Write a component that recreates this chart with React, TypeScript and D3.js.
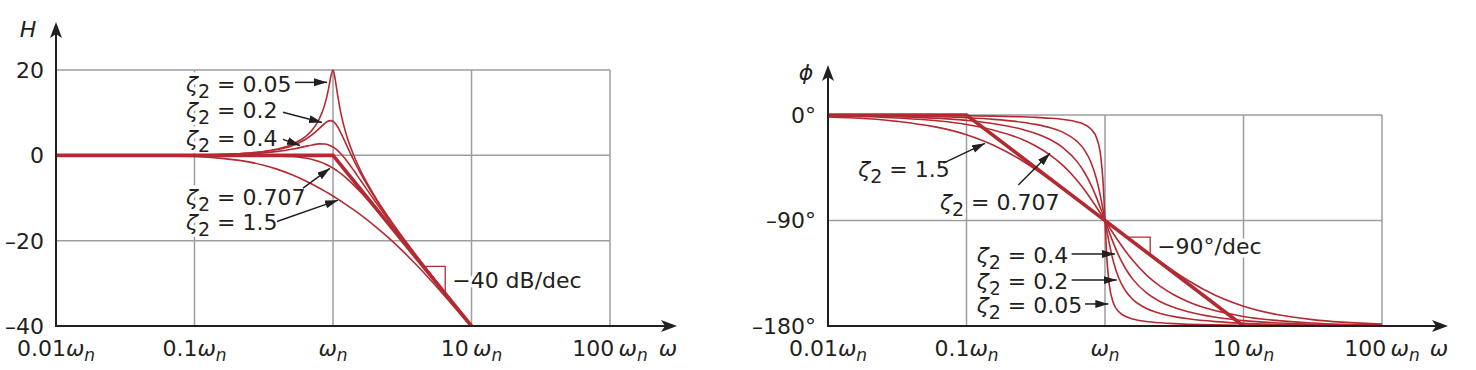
import React from "react";
import * as d3 from "d3";

// ω / ωn sample points (log spaced, denser near resonance)
const omega = [0.01, 0.0316, 0.1, 0.158, 0.251, 0.316, 0.398, 0.501, 0.631, 0.708, 0.794, 0.871, 0.933, 0.966, 1,
  1.035, 1.072, 1.148, 1.259, 1.413, 1.585, 1.995, 2.512, 3.162, 3.981, 6.31, 10, 31.6, 100];

const zetas = ["0.05", "0.2", "0.4", "0.707", "1.5"];

// magnitude H (dB), read for ω = 0.01 … 10 ωn
const magZ005 = [0, 0.01, 0.09, 0.22, 0.56, 0.91, 1.49, 2.49, 4.36, 5.95, 8.46, 11.82, 15.94, 18.6, 20, 17.99, 14.76, 9.41, 4.46, -0.05, -3.64, -9.51, -14.51, -19.09, -23.44, -31.78, -39.91];
const magZ02 = [0, 0.01, 0.08, 0.2, 0.52, 0.83, 1.35, 2.21, 3.71, 4.83, 6.25, 7.46, 8.07, 8.13, 7.96, 7.53, 6.87, 5.05, 2.25, -1.17, -4.29, -9.79, -14.65, -19.17, -23.48, -31.8, -39.92];
const magZ04 = [0, 0.01, 0.06, 0.15, 0.37, 0.58, 0.92, 1.42, 2.1, 2.44, 2.68, 2.65, 2.41, 2.2, 1.94, 1.61, 1.21, 0.25, -1.32, -3.56, -5.9, -10.58, -15.08, -19.42, -23.63, -31.85, -39.94];
const magZ0707 = [0, 0, 0, 0, -0.02, -0.04, -0.11, -0.27, -0.64, -0.97, -1.46, -1.97, -2.45, -2.72, -3.01, -3.32, -3.65, -4.37, -5.46, -6.97, -8.64, -12.27, -16.11, -20.04, -24, -32, -40];
const magZ15 = [0, -0.03, -0.29, -0.71, -1.6, -2.33, -3.29, -4.5, -5.96, -6.78, -7.65, -8.38, -8.95, -9.25, -9.54, -9.84, -10.15, -10.78, -11.65, -12.78, -13.96, -16.51, -19.29, -22.33, -25.6, -32.71, -40.29];
const magnitude = [magZ005, magZ02, magZ04, magZ0707, magZ15];

// phase φ (degrees), ω = 0.01 … 100 ωn
const phZ005 = [-0.06, -0.18, -0.58, -0.93, -1.54, -2.01, -2.71, -3.83, -5.98, -8.08, -12.15, -19.84, -35.88, -55.37, -90, -124.63, -144.12, -160.16, -167.85, -171.92, -174.02, -176.17, -177.29, -177.99, -178.46, -179.07, -179.42, -179.82, -179.94];
const phZ02 = [-0.23, -0.73, -2.31, -3.72, -6.12, -8, -10.71, -14.99, -22.75, -29.59, -40.72, -55.28, -70.94, -80.2, -90, -99.8, -109.06, -124.72, -139.28, -150.41, -157.25, -165.01, -169.29, -172, -173.88, -176.28, -177.69, -179.27, -179.77];
const phZ04 = [-0.46, -1.45, -4.62, -7.41, -12.11, -15.7, -20.73, -28.17, -39.98, -48.63, -59.86, -70.89, -80.2, -85.07, -90, -94.93, -99.8, -109.11, -120.14, -131.37, -140.02, -151.83, -159.27, -164.3, -167.89, -172.59, -175.38, -178.55, -179.54];
const phZ0707 = [-0.81, -2.56, -8.13, -12.95, -20.76, -26.42, -33.79, -43.43, -56, -63.52, -71.82, -78.91, -84.42, -87.2, -90, -92.8, -95.58, -101.09, -108.18, -116.48, -124, -136.57, -146.21, -153.58, -159.24, -167.05, -171.87, -177.44, -179.19];
const phZ15 = [-1.72, -5.42, -16.86, -26, -38.81, -46.5, -54.83, -63.53, -72.36, -76.78, -81.2, -84.72, -87.36, -88.68, -90, -91.32, -92.64, -95.28, -98.8, -103.22, -107.64, -116.47, -125.17, -133.5, -141.19, -154, -163.14, -174.58, -178.28];
const phase = [phZ005, phZ02, phZ04, phZ0707, phZ15];

// straight-line asymptotes
const magAsymW = [0.01, 1, 10];
const magAsymH = [0, 0, -40];
const phAsymW = [0.01, 0.1, 10, 100];
const phAsymP = [0, 0, -180, -180];

const xTicks = [0.01, 0.1, 1, 10, 100];
const xTickNum = ["0.01", "0.1", "", "10\u2009", "100\u2009"];
const magTicks = [20, 0, -20, -40];
const phTicks = [0, -90, -180];

// annotations, in data units: text anchor, arrow tail, arrow tip
const magNotes = [
  { z: "0.05", text: [0.0868, 14.8], tail: [0.532, 17.1], tip: [0.905, 17.1] },
  { z: "0.2", text: [0.0868, 8.7], tail: [0.435, 10.1], tip: [0.833, 7.7] },
  { z: "0.4", text: [0.0868, 2.3], tail: [0.435, 3.75], tip: [0.578, 2.3] },
  { z: "0.707", text: [0.0868, -11.7], tail: [0.607, -7.7], tip: [0.951, -3.05] },
  { z: "1.5", text: [0.0868, -17.6], tail: [0.394, -15.5], tip: [1.087, -10.5] },
];
const phNotes = [
  { z: "1.5", text: [0.01655, -52.6], tail: [0.0681, -41], tip: [0.136, -24.2] },
  { z: "0.707", text: [0.0644, -81], tail: [0.2366, -59.7], tip: [0.401, -32.7] },
  { z: "0.4", text: [0.1185, -126.5], tail: [0.574, -118.6], tip: [1.181, -118.6] },
  { z: "0.2", text: [0.1185, -148.7], tail: [0.574, -140.8], tip: [1.215, -140.8] },
  { z: "0.05", text: [0.1185, -169.2], tail: [0.717, -161.2], tip: [1.057, -161.2] },
];
const magSlope = [4.47, 6.46];
const phSlope = [1.44, 2.12];

const RED = "#b42a33";
const GRID = "#9d9d9d";
const INK = "#231f20";
const FONT = "'DejaVu Sans', sans-serif";
const FS = 22;

type Note = { z: string; text: number[]; tail: number[]; tip: number[] };

function Panel(props: {
  id: string; x0: number; x1: number; yTop: number; yBot: number; yDomain: [number, number];
  yTicks: number[]; yFmt: (v: number) => string; series: number[][]; asymW: number[]; asymV: number[];
  notes: Note[]; slope: number[]; slopeText: string; yLabel: string; yLabelDx: number; xTip: number; yTip: number;
}) {
  const { id, x0, x1, yTop, yBot } = props;
  const x = d3.scaleLog().domain([0.01, 100]).range([x0, x1]);
  const y = d3.scaleLinear().domain(props.yDomain).range([yBot, yTop]);
  const line = d3.line<number[]>().x((d) => x(d[0])).y((d) => y(d[1])).curve(d3.curveMonotoneX);
  const asymLine = d3.line<number[]>().x((d) => x(d[0])).y((d) => y(d[1]));
  const asym = d3.scaleLinear().domain(props.asymW.map(Math.log10)).range(props.asymV);
  const sx1 = x(props.slope[0]), sx2 = x(props.slope[1]);
  const sy1 = y(asym(Math.log10(props.slope[0]))), sy2 = y(asym(Math.log10(props.slope[1])));
  const halo = { stroke: "white", strokeWidth: 7, strokeLinejoin: "round" as const, paintOrder: "stroke" };

  return (
    <g>
      <defs>
        <clipPath id={`clip-${id}`}>
          <rect x={x0} y={yTop - 10} width={x1 - x0 + 2} height={yBot - yTop + 10} />
        </clipPath>
      </defs>
      {/* grid */}
      {xTicks.slice(1).map((t) => (
        <line key={`gx${t}`} x1={x(t)} x2={x(t)} y1={yTop} y2={yBot} stroke={GRID} strokeWidth={1.5} />
      ))}
      {props.yTicks.slice(0, -1).map((t) => (
        <line key={`gy${t}`} x1={x0} x2={x1} y1={y(t)} y2={y(t)} stroke={GRID} strokeWidth={1.5} />
      ))}
      {/* annotation labels */}
      {props.notes.map((n) => (
        <text key={`t${n.z}`} x={x(n.text[0])} y={y(n.text[1])} fontSize={FS} fill={INK} {...halo}>
          <tspan fontStyle="italic">ζ</tspan>
          <tspan dy={6} fontSize={19}>2</tspan>
          <tspan dy={-6}>{` = ${n.z}`}</tspan>
        </text>
      ))}
      <text x={sx2 + 7} y={(sy1 + sy2) / 2} dy="0.36em" fontSize={FS} fill={INK} {...halo}>{props.slopeText}</text>
      {/* curves */}
      <g clipPath={`url(#clip-${id})`}>
        {props.series.map((vals, i) => (
          <path key={zetas[i]} d={line(vals.map((v, j) => [omega[j], v])) || ""} fill="none" stroke={RED} strokeWidth={1.6} />
        ))}
        <path d={asymLine(props.asymW.map((w, j) => [w, props.asymV[j]])) || ""} fill="none" stroke={RED} strokeWidth={3.6} />
      </g>
      <path d={`M${sx1},${sy1}H${sx2}V${sy2}`} fill="none" stroke={RED} strokeWidth={1.3} />
      {/* arrows */}
      {props.notes.map((n) => (
        <line key={`a${n.z}`} x1={x(n.tail[0])} y1={y(n.tail[1])} x2={x(n.tip[0])} y2={y(n.tip[1])}
          stroke={INK} strokeWidth={1.5} markerEnd="url(#arrowhead)" />
      ))}
      {/* axes */}
      <line x1={x0} x2={props.xTip - 12} y1={yBot} y2={yBot} stroke={INK} strokeWidth={2} />
      <path d={`M${props.xTip},${yBot}L${props.xTip - 16},${yBot - 6}L${props.xTip - 12},${yBot}L${props.xTip - 16},${yBot + 6}Z`} fill={INK} />
      <line x1={x0} x2={x0} y1={yBot + 1} y2={props.yTip + 12} stroke={INK} strokeWidth={2} />
      <path d={`M${x0},${props.yTip}L${x0 - 6},${props.yTip + 16}L${x0},${props.yTip + 12}L${x0 + 6},${props.yTip + 16}Z`} fill={INK} />
      {/* tick labels */}
      {props.yTicks.map((t) => (
        <text key={`yl${t}`} x={x0 - 12} y={y(t)} dy="0.36em" textAnchor="end" fontSize={FS} fill={INK}>{props.yFmt(t)}</text>
      ))}
      {xTicks.map((t, i) => (
        <text key={`xl${t}`} x={x(t)} y={356} textAnchor="middle" fontSize={FS} fill={INK}>
          {xTickNum[i]}
          <tspan fontStyle="italic">ω</tspan>
          <tspan fontStyle="italic" fontSize={17} dy={5}>n</tspan>
        </text>
      ))}
      <text x={props.xTip - 9} y={356} textAnchor="middle" fontSize={FS} fontStyle="italic" fill={INK}>ω</text>
      <text x={x0 + props.yLabelDx} y={props.yTip + 15} textAnchor="middle" fontSize={FS} fontStyle="italic" fill={INK}>{props.yLabel}</text>
    </g>
  );
}

export default function App() {
  return (
    <svg width={1476} height={370} style={{ position: "absolute", left: 0, top: 0, background: "white" }} fontFamily={FONT}>
      <defs>
        <marker id="arrowhead" markerUnits="userSpaceOnUse" markerWidth={14} markerHeight={10} refX={13} refY={4} orient="auto">
          <path d="M0,0L13,4L0,8Z" fill={INK} />
        </marker>
      </defs>
      <Panel id="mag" x0={56} x1={610} yTop={70} yBot={326} yDomain={[-40, 20]} yTicks={magTicks}
        yFmt={(v) => (v < 0 ? `–${-v}` : `${v}`)} series={magnitude} asymW={magAsymW} asymV={magAsymH}
        notes={magNotes} slope={magSlope} slopeText="−40 dB/dec" yLabel="H" yLabelDx={-28} xTip={677} yTip={22} />
      <Panel id="ph" x0={828} x1={1382} yTop={115} yBot={326} yDomain={[-180, 0]} yTicks={phTicks}
        yFmt={(v) => (v < 0 ? `–${-v}°` : `${v}°`)} series={phase} asymW={phAsymW} asymV={phAsymP}
        notes={phNotes} slope={phSlope} slopeText="−90°/dec" yLabel="ϕ" yLabelDx={-22} xTip={1448} yTip={65} />
    </svg>
  );
}
